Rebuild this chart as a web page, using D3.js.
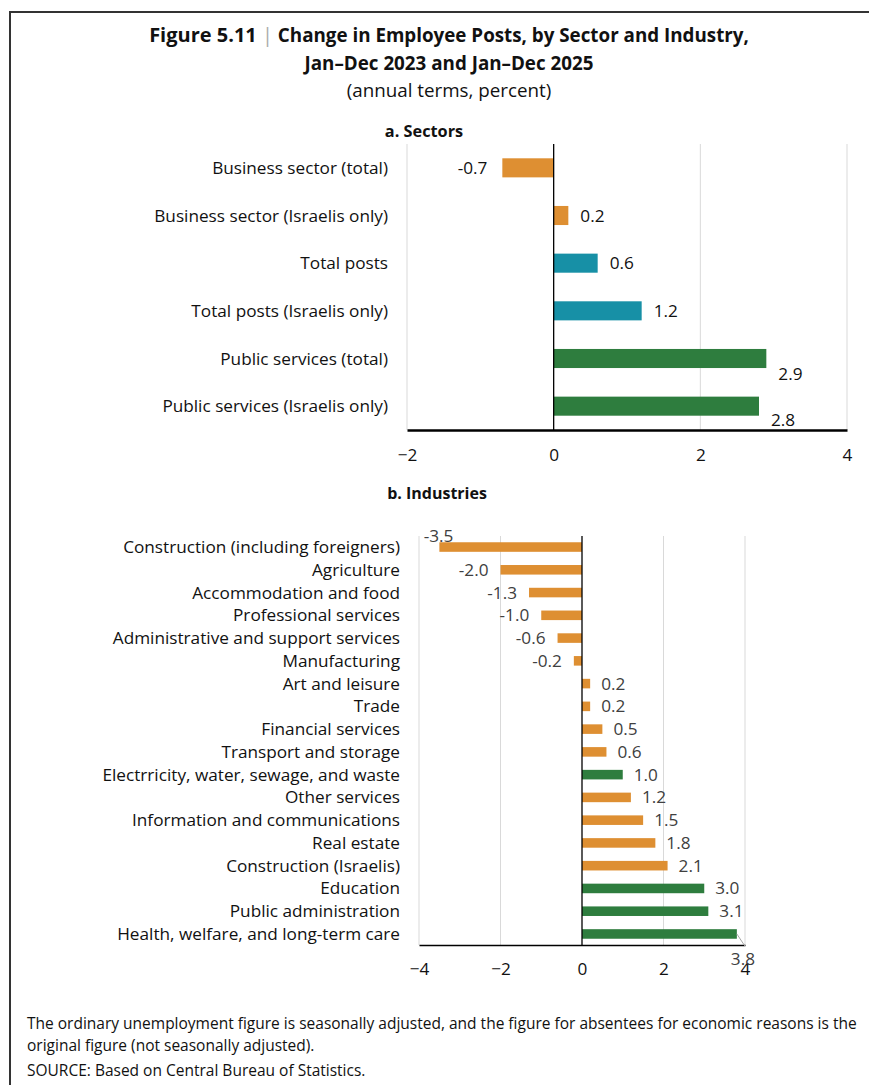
<!DOCTYPE html>
<html><head><meta charset="utf-8">
<script src="https://cdn.jsdelivr.net/npm/d3@7/dist/d3.min.js"></script>
<style>
html,body{margin:0;padding:0;background:#fff;}
svg text{font-family:"Open Sans","Noto Sans",sans-serif;}
</style></head>
<body>
<svg id="c" width="869" height="1085"></svg>
<script>
// ---- data ----
const sectorCategories = ["Business sector (total)","Business sector (Israelis only)","Total posts","Total posts (Israelis only)","Public services (total)","Public services (Israelis only)"];
const sectorValues = [-0.7, 0.2, 0.6, 1.2, 2.9, 2.8];
const sectorGroups = ["business","business","total","total","public","public"];
const sectorTicks = [-2, 0, 2, 4];

const industryCategories = ["Construction (including foreigners)","Agriculture","Accommodation and food","Professional services","Administrative and support services","Manufacturing","Art and leisure","Trade","Financial services","Transport and storage","Electrricity, water, sewage, and waste","Other services","Information and communications","Real estate","Construction (Israelis)","Education","Public administration","Health, welfare, and long-term care"];
const industryValues = [-3.5,-2.0,-1.3,-1.0,-0.6,-0.2,0.2,0.2,0.5,0.6,1.0,1.2,1.5,1.8,2.1,3.0,3.1,3.8];
const industryGroups = ["business","business","business","business","business","business","business","business","business","business","public","business","business","business","business","public","public","public"];
const industryTicks = [-4,-2,0,2,4];

// ---- style ----
const colors = {business:"#DE8F32", total:"#1790A6", public:"#2E7D3E"};
const FS = 17.2;
const svg = d3.select("#c");

// frame
svg.append("line").attr("x1",9).attr("x2",869).attr("y1",12).attr("y2",12).attr("stroke","#333").attr("stroke-width",2);
svg.append("line").attr("x1",10).attr("x2",10).attr("y1",11).attr("y2",1085).attr("stroke","#333").attr("stroke-width",2);

// title
const t1 = svg.append("text").attr("x",449).attr("y",42).attr("text-anchor","middle").attr("font-weight","bold").attr("font-size",20).attr("fill","#111");
t1.append("tspan").text("Figure 5.11 ");
t1.append("tspan").attr("fill","#aaa").attr("font-weight","normal").text("|");
t1.append("tspan").attr("font-size",18.8).text(" Change in Employee Posts, by Sector and Industry,");
svg.append("text").attr("x",449).attr("y",70).attr("text-anchor","middle").attr("font-weight","bold").attr("font-size",18.8).attr("fill","#111").text("Jan\u2013Dec 2023 and Jan\u2013Dec 2025");
svg.append("text").attr("x",449).attr("y",97).attr("text-anchor","middle").attr("font-size",18.8).attr("fill","#111").text("(annual terms, percent)");

function panel(opt){
  const g = svg.append("g");
  const x = d3.scaleLinear().domain(opt.domain).range(opt.xr);
  const y = d3.scaleBand().domain(opt.cats).range(opt.yr).paddingInner(opt.pi).paddingOuter(opt.po);
  // gridlines
  g.selectAll(".grid").data(opt.ticks.filter(t=>t!==0)).join("line")
    .attr("x1",d=>x(d)).attr("x2",d=>x(d)).attr("y1",opt.yr[0]).attr("y2",opt.yr[1])
    .attr("stroke","#d9d9d9").attr("stroke-width",1);
  // bars
  g.selectAll(".bar").data(opt.vals).join("rect")
    .attr("x",d=>x(Math.min(0,d))).attr("width",d=>Math.abs(x(d)-x(0)))
    .attr("y",(d,i)=>y(opt.cats[i])).attr("height",y.bandwidth())
    .attr("fill",(d,i)=>colors[opt.groups[i]]);
  // zero line
  g.append("line").attr("x1",x(0)).attr("x2",x(0)).attr("y1",opt.yr[0]).attr("y2",opt.yr[1]).attr("stroke","#000").attr("stroke-width",1.3);
  // axis
  const ax = g.append("g").attr("transform",`translate(0,${opt.yr[1]})`)
    .call(d3.axisBottom(x).tickValues(opt.ticks).tickSize(0).tickPadding(opt.tickPad).tickFormat(d3.format("d")));
  ax.select(".domain").attr("stroke","#000").attr("stroke-width",opt.axisW);
  ax.selectAll("text").attr("font-size",FS).attr("fill","#111").style("font-family","'Open Sans', sans-serif");
  // category labels
  g.selectAll(".cat").data(opt.cats).join("text")
    .attr("x",opt.catX).attr("y",d=>y(d)+y.bandwidth()/2).attr("dy","0.35em")
    .attr("text-anchor","end").attr("font-size",FS).attr("fill","#111").text(d=>d);
  // value labels
  g.selectAll(".val").data(opt.vals).join("text")
    .attr("x",(d,i)=>x(d)+(d<0?-opt.gapN:opt.gap)+(opt.off[i]?opt.off[i][0]:0))
    .attr("y",(d,i)=>y(opt.cats[i])+y.bandwidth()/2+(opt.off[i]?opt.off[i][1]:0))
    .attr("dy","0.35em").attr("text-anchor",d=>d<0?"end":"start")
    .attr("font-size",FS).attr("fill",opt.valColor).text(d=>d.toFixed(1));
  return {g,x,y};
}

svg.append("text").attr("x",424).attr("y",137).attr("text-anchor","middle").attr("font-weight","bold").attr("font-size",16.3).attr("fill","#111").text("a. Sectors");
panel({cats:sectorCategories, vals:sectorValues, groups:sectorGroups, ticks:sectorTicks,
  domain:[-2,4], xr:[407,847], yr:[144,430], pi:0.6, po:0.3, catX:388, gap:12, gapN:15,
  off:{4:[0,15],5:[0,14]}, valColor:"#111", axisW:2.5, tickPad:19});

svg.append("text").attr("x",437).attr("y",499).attr("text-anchor","middle").attr("font-weight","bold").attr("font-size",16).attr("fill","#111").text("b. Industries");
const pb = panel({cats:industryCategories, vals:industryValues, groups:industryGroups, ticks:industryTicks,
  domain:[-4,4], xr:[419,745], yr:[536,945], pi:0.58, po:0.275, catX:400, gap:11, gapN:12,
  off:{0:[26,-11],17:[-17,25]}, valColor:"#404040", axisW:1.5, tickPad:18});
// leader line for last label
{
  const i = industryValues.length-1;
  const xe = pb.x(industryValues[i]), yc = pb.y(industryCategories[i])+pb.y.bandwidth()/2;
  pb.g.append("line").attr("x1",xe).attr("y1",yc).attr("x2",xe+8).attr("y2",yc+12).attr("stroke","#a6a6a6").attr("stroke-width",1);
}

// footer
const foot = ["The ordinary unemployment figure is seasonally adjusted, and the figure for absentees for economic reasons is the","original figure (not seasonally adjusted).","SOURCE: Based on Central Bureau of Statistics."];
const footY = [1029, 1051, 1076];
svg.selectAll(".foot").data(foot).join("text").attr("x",27).attr("y",(d,i)=>footY[i]).attr("font-size",15.5).attr("fill","#111").text(d=>d);
</script>
</body></html>
